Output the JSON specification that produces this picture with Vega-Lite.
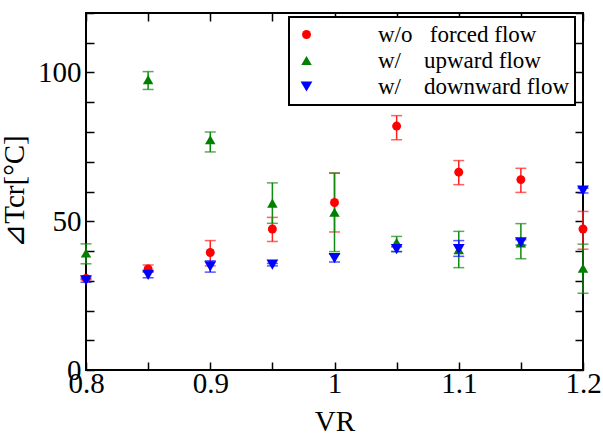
{
  "$schema": "https://vega.github.io/schema/vega-lite/v6.json",
  "width": 497,
  "height": 357,
  "autosize": {"type": "none"},
  "padding": {"left": 86, "top": 13, "right": 20, "bottom": 64},
  "background": "white",
  "config": {
    "view": {"stroke": "black", "strokeWidth": 2},
    "axis": {
      "grid": false,
      "domain": false,
      "tickColor": "black",
      "tickWidth": 1.5,
      "tickSize": -8,
      "labelFont": "Liberation Serif",
      "labelFontSize": 29,
      "labelColor": "black",
      "labelFlush": false,
      "labelOverlap": false,
      "titleFont": "Liberation Serif, DejaVu Serif",
      "titleFontWeight": "normal",
      "titleColor": "black"
    },
    "legend": {
      "labelFont": "Liberation Serif",
      "labelFontSize": 23,
      "labelColor": "black",
      "labelLimit": 400,
      "strokeColor": "black",
      "strokeWidth": 2,
      "fillColor": "white",
      "padding": 6,
      "rowPadding": 2
    }
  },
  "data": {
    "values": [
      {"vr": 0.8, "series": "w/o\u00a0\u00a0 forced flow", "val": 30.8, "lo": 30.3, "hi": 31.3},
      {"vr": 0.85, "series": "w/o\u00a0\u00a0 forced flow", "val": 34, "lo": 33, "hi": 35.3},
      {"vr": 0.9, "series": "w/o\u00a0\u00a0 forced flow", "val": 39.5, "lo": 35, "hi": 43.5},
      {"vr": 0.95, "series": "w/o\u00a0\u00a0 forced flow", "val": 47.4, "lo": 43.2, "hi": 51.3},
      {"vr": 1.0, "series": "w/o\u00a0\u00a0 forced flow", "val": 56.3, "lo": 46.4, "hi": 66.2},
      {"vr": 1.05, "series": "w/o\u00a0\u00a0 forced flow", "val": 82, "lo": 77.4, "hi": 85.5},
      {"vr": 1.1, "series": "w/o\u00a0\u00a0 forced flow", "val": 66.5, "lo": 62.3, "hi": 70.4},
      {"vr": 1.15, "series": "w/o\u00a0\u00a0 forced flow", "val": 64, "lo": 59.7, "hi": 67.8},
      {"vr": 1.2, "series": "w/o\u00a0\u00a0 forced flow", "val": 47.4, "lo": 40.6, "hi": 53.3},
      {"vr": 0.8, "series": "w/\u00a0\u00a0\u00a0 upward flow", "val": 39.3, "lo": 35.7, "hi": 42.4},
      {"vr": 0.85, "series": "w/\u00a0\u00a0\u00a0 upward flow", "val": 97.6, "lo": 94.3, "hi": 100.3},
      {"vr": 0.9, "series": "w/\u00a0\u00a0\u00a0 upward flow", "val": 77.4, "lo": 73.3, "hi": 80},
      {"vr": 0.95, "series": "w/\u00a0\u00a0\u00a0 upward flow", "val": 56.1, "lo": 49.3, "hi": 62.9},
      {"vr": 1.0, "series": "w/\u00a0\u00a0\u00a0 upward flow", "val": 53, "lo": 39.8, "hi": 66.2},
      {"vr": 1.05, "series": "w/\u00a0\u00a0\u00a0 upward flow", "val": 42.9, "lo": 39.8, "hi": 44.9},
      {"vr": 1.1, "series": "w/\u00a0\u00a0\u00a0 upward flow", "val": 40.4, "lo": 34.4, "hi": 46.6},
      {"vr": 1.15, "series": "w/\u00a0\u00a0\u00a0 upward flow", "val": 42.7, "lo": 37.4, "hi": 49.2},
      {"vr": 1.2, "series": "w/\u00a0\u00a0\u00a0 upward flow", "val": 34.2, "lo": 25.8, "hi": 42.3},
      {"vr": 0.8, "series": "w/\u00a0\u00a0\u00a0 downward flow", "val": 30.1, "lo": 29.5, "hi": 30.7},
      {"vr": 0.85, "series": "w/\u00a0\u00a0\u00a0 downward flow", "val": 32, "lo": 31, "hi": 33},
      {"vr": 0.9, "series": "w/\u00a0\u00a0\u00a0 downward flow", "val": 34.8, "lo": 32.9, "hi": 36.7},
      {"vr": 0.95, "series": "w/\u00a0\u00a0\u00a0 downward flow", "val": 35.4, "lo": 35, "hi": 35.8},
      {"vr": 1.0, "series": "w/\u00a0\u00a0\u00a0 downward flow", "val": 37.6, "lo": 36.3, "hi": 38.9},
      {"vr": 1.05, "series": "w/\u00a0\u00a0\u00a0 downward flow", "val": 40.6, "lo": 39.8, "hi": 41.4},
      {"vr": 1.1, "series": "w/\u00a0\u00a0\u00a0 downward flow", "val": 40.6, "lo": 38.2, "hi": 43.5},
      {"vr": 1.15, "series": "w/\u00a0\u00a0\u00a0 downward flow", "val": 42.9, "lo": 42, "hi": 43.8},
      {"vr": 1.2, "series": "w/\u00a0\u00a0\u00a0 downward flow", "val": 60.3, "lo": 59.5, "hi": 61.1}
    ]
  },
  "resolve": {"axis": {"x": "independent", "y": "independent"}},
  "layer": [
    {
      "transform": [{"filter": "indexof(datum.series, 'forced') >= 0"}],
      "mark": {"type": "rule", "strokeWidth": 1.5, "color": "#ff2020"},
      "encoding": {
        "x": {
          "field": "vr", "type": "quantitative",
          "scale": {"domain": [0.8, 1.2], "nice": false, "zero": false},
          "axis": {
            "orient": "bottom",
            "values": [0.8, 0.85, 0.9, 0.95, 1.0, 1.05, 1.1, 1.15, 1.2],
            "format": "~g",
            "labelExpr": "round(datum.value * 100) % 10 === 0 ? datum.label : ''",
            "labelPadding": 7,
            "title": "VR",
            "titleFontSize": 29,
            "titleY": 37
          }
        },
        "y": {
          "field": "lo", "type": "quantitative",
          "scale": {"domain": [0, 120], "nice": false},
          "axis": {
            "orient": "left",
            "values": [0, 10, 20, 30, 40, 50, 60, 70, 80, 90, 100, 110, 120],
            "labelExpr": "datum.value % 50 === 0 ? datum.label : ''",
            "labelPadding": 13,
            "title": "⊿Tcr[°C]",
            "titleFontSize": 29,
            "titleX": -57,
            "titleY": 178
          }
        },
        "y2": {"field": "hi"}
      }
    },
    {
      "transform": [{"filter": "indexof(datum.series, 'forced') >= 0"}, {"fold": ["lo", "hi"], "as": ["end", "bound"]}],
      "mark": {"type": "tick", "orient": "horizontal", "size": 11, "thickness": 1.5, "color": "#ff2020"},
      "encoding": {
        "x": {
          "field": "vr", "type": "quantitative",
          "axis": {
            "orient": "top",
            "values": [0.8, 0.85, 0.9, 0.95, 1.0, 1.05, 1.1, 1.15, 1.2],
            "labels": false,
            "title": null
          }
        },
        "y": {
          "field": "bound", "type": "quantitative",
          "axis": {
            "orient": "right",
            "values": [0, 10, 20, 30, 40, 50, 60, 70, 80, 90, 100, 110, 120],
            "labels": false,
            "title": null
          }
        }
      }
    },
    {
      "transform": [{"filter": "indexof(datum.series, 'upward') >= 0"}],
      "mark": {"type": "rule", "strokeWidth": 1.5, "color": "#108a10"},
      "encoding": {
        "x": {"field": "vr", "type": "quantitative", "axis": null},
        "y": {"field": "lo", "type": "quantitative", "axis": null},
        "y2": {"field": "hi"}
      }
    },
    {
      "transform": [{"filter": "indexof(datum.series, 'upward') >= 0"}, {"fold": ["lo", "hi"], "as": ["end", "bound"]}],
      "mark": {"type": "tick", "orient": "horizontal", "size": 11, "thickness": 1.5, "color": "#108a10"},
      "encoding": {
        "x": {"field": "vr", "type": "quantitative", "axis": null},
        "y": {"field": "bound", "type": "quantitative", "axis": null}
      }
    },
    {
      "transform": [{"filter": "indexof(datum.series, 'downward') >= 0"}],
      "mark": {"type": "rule", "strokeWidth": 1.5, "color": "#1010ff"},
      "encoding": {
        "x": {"field": "vr", "type": "quantitative", "axis": null},
        "y": {"field": "lo", "type": "quantitative", "axis": null},
        "y2": {"field": "hi"}
      }
    },
    {
      "transform": [{"filter": "indexof(datum.series, 'downward') >= 0"}, {"fold": ["lo", "hi"], "as": ["end", "bound"]}],
      "mark": {"type": "tick", "orient": "horizontal", "size": 11, "thickness": 1.5, "color": "#1010ff"},
      "encoding": {
        "x": {"field": "vr", "type": "quantitative", "axis": null},
        "y": {"field": "bound", "type": "quantitative", "axis": null}
      }
    },
    {
      "mark": {"type": "point", "filled": true, "opacity": 1},
      "encoding": {
        "x": {"field": "vr", "type": "quantitative", "axis": null},
        "y": {"field": "val", "type": "quantitative", "axis": null},
        "color": {
          "field": "series", "type": "nominal",
          "scale": {
            "domain": ["w/o\u00a0\u00a0 forced flow", "w/\u00a0\u00a0\u00a0 upward flow", "w/\u00a0\u00a0\u00a0 downward flow"],
            "range": ["#ff0000", "#008000", "#0000ff"]
          },
          "legend": {
            "orient": "none",
            "legendX": 203,
            "legendY": 4,
            "title": null,
            "labelFont": "Liberation Serif",
            "labelFontSize": 23,
            "labelOffset": 60,
            "symbolStrokeWidth": 0
          }
        },
        "shape": {
          "field": "series", "type": "nominal",
          "scale": {
            "domain": ["w/o\u00a0\u00a0 forced flow", "w/\u00a0\u00a0\u00a0 upward flow", "w/\u00a0\u00a0\u00a0 downward flow"],
            "range": ["circle", "triangle-up", "triangle-down"]
          }
        },
        "size": {
          "field": "series", "type": "nominal",
          "scale": {
            "domain": ["w/o\u00a0\u00a0 forced flow", "w/\u00a0\u00a0\u00a0 upward flow", "w/\u00a0\u00a0\u00a0 downward flow"],
            "range": [80, 140, 140]
          }
        }
      }
    }
  ]
}
